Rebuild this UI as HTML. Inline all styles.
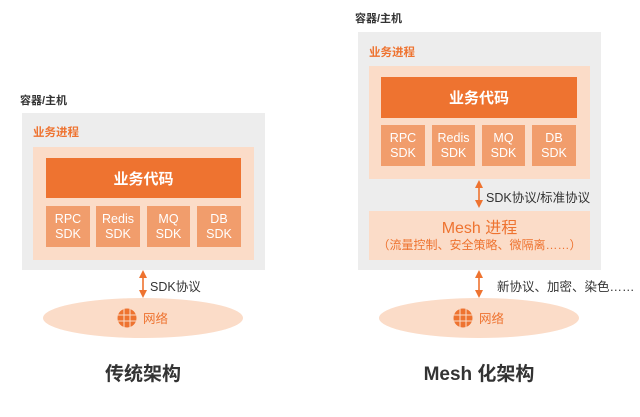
<!DOCTYPE html>
<html><head><meta charset="utf-8"><style>
body{margin:0;width:640px;height:417px;background:#fff;position:relative;overflow:hidden;font-family:"Liberation Sans","Noto Sans CJK SC",sans-serif}
.a{position:absolute}
.lbl{font-size:11px;color:#333;font-weight:bold}
.gray{background:#ededed}
.peach{background:#fbdcc8}
.bar{background:#ee7330;color:#fff;font-size:15px;font-weight:bold;display:flex;align-items:center;justify-content:center}
.sdk{background:#f19d6c;color:#fff;font-size:12.5px;line-height:15px;text-align:center;display:flex;align-items:center;justify-content:center}
.org{color:#ee7330;font-size:11.5px;font-weight:bold}
.txt{font-size:12.5px;color:#333}
.title{font-size:19px;font-weight:bold;color:#333;text-align:center;width:240px}
</style></head><body>
<!-- left -->
<div class="a lbl" style="left:20px;top:92px">容器/主机</div>
<div class="a gray" style="left:22px;top:113px;width:243px;height:157px"></div>
<div class="a org" style="left:33px;top:124px">业务进程</div>
<div class="a peach" style="left:33px;top:147px;width:221px;height:113px"></div>
<div class="a bar" style="left:46px;top:158px;width:195px;height:40px">业务代码</div>
<div class="a sdk" style="left:46px;top:206px;width:44px;height:41px">RPC<br>SDK</div>
<div class="a sdk" style="left:96px;top:206px;width:44px;height:41px">Redis<br>SDK</div>
<div class="a sdk" style="left:147px;top:206px;width:43px;height:41px">MQ<br>SDK</div>
<div class="a sdk" style="left:197px;top:206px;width:44px;height:41px">DB<br>SDK</div>
<div class="a txt" style="left:150px;top:276px">SDK协议</div>
<div class="a title" style="left:23px;top:359px">传统架构</div>
<!-- right -->
<div class="a lbl" style="left:355px;top:10px">容器/主机</div>
<div class="a gray" style="left:358px;top:32px;width:243px;height:238px"></div>
<div class="a org" style="left:369px;top:44px">业务进程</div>
<div class="a peach" style="left:369px;top:66px;width:221px;height:113px"></div>
<div class="a bar" style="left:381px;top:77px;width:196px;height:41px">业务代码</div>
<div class="a sdk" style="left:381px;top:125px;width:44px;height:41px">RPC<br>SDK</div>
<div class="a sdk" style="left:432px;top:125px;width:43px;height:41px">Redis<br>SDK</div>
<div class="a sdk" style="left:482px;top:125px;width:43px;height:41px">MQ<br>SDK</div>
<div class="a sdk" style="left:532px;top:125px;width:44px;height:41px">DB<br>SDK</div>
<div class="a txt" style="left:486px;top:187px">SDK协议/标准协议</div>
<div class="a peach" style="left:369px;top:211px;width:221px;height:49px"></div>
<div class="a" style="left:369px;top:214px;width:221px;text-align:center;color:#ee7330;font-size:16px">Mesh 进程</div>
<div class="a" style="left:369px;top:236px;width:221px;text-align:center;color:#ee7330;font-size:12px">（流量控制、安全策略、微隔离……）</div>
<div class="a txt" style="left:497px;top:276px">新协议、加密、染色……</div>
<div class="a title" style="left:359px;top:359px">Mesh 化架构</div>
<svg class="a" style="left:0;top:0" width="640" height="417">
<defs><marker id="m" markerWidth="5" markerHeight="5" refX="2.5" refY="2.5" orient="auto-start-reverse"><path d="M0,0L5,2.5L0,5z" fill="#ee7330"/></marker></defs>
<g stroke="#ee7330" stroke-width="1.6" marker-start="url(#m)" marker-end="url(#m)">
<line x1="143" y1="274" x2="143" y2="294"/>
<line x1="479" y1="184" x2="479" y2="204"/>
<line x1="479" y1="274" x2="479" y2="294"/>
</g>
<ellipse cx="143" cy="318" rx="100" ry="20" fill="#fbdcc8"/>
<ellipse cx="479" cy="318" rx="100" ry="20" fill="#fbdcc8"/>
<g fill="#ee7330">
<circle cx="127" cy="318" r="9.5"/><circle cx="463" cy="318" r="9.5"/>
</g>
<g stroke="#fbdcc8" stroke-width="1" fill="none">
<path d="M118,315h18M118,321h18M124,309v18M130,309v18"/>
<path d="M454,315h18M454,321h18M460,309v18M466,309v18"/>
</g>
<text x="143" y="323" font-size="12.5" fill="#ee7330" font-family="Liberation Sans,Noto Sans CJK SC,sans-serif">网络</text>
<text x="479" y="323" font-size="12.5" fill="#ee7330" font-family="Liberation Sans,Noto Sans CJK SC,sans-serif">网络</text>
</svg>
</body></html>
